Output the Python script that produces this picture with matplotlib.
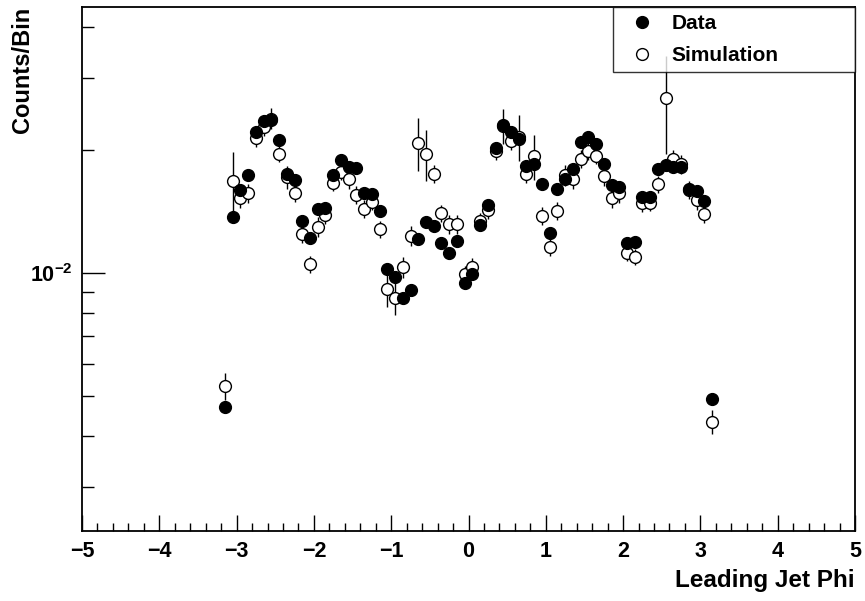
"""Leading jet phi distribution, data vs simulation (log y), ROOT-like style.
Output: out.png
"""
import matplotlib
matplotlib.use("Agg")
import matplotlib.pyplot as plt
import numpy as np
from matplotlib.lines import Line2D
from matplotlib.ticker import MultipleLocator, LogLocator, NullFormatter, LogFormatterMathtext

plt.rcParams["font.family"] = ["Liberation Sans", "DejaVu Sans"]
plt.rcParams["font.weight"] = "bold"
plt.rcParams["mathtext.fontset"] = "custom"
plt.rcParams["mathtext.rm"] = "Liberation Sans:bold"
plt.rcParams["mathtext.bf"] = "Liberation Sans:bold"
plt.rcParams["mathtext.default"] = "bf"

# 64 bins of 0.1 between -3.2 and 3.2
bin_edges = np.linspace(-3.2, 3.2, 65)
phi = 0.5 * (bin_edges[:-1] + bin_edges[1:])

data = [0.00469, 0.01373, 0.01596, 0.01736, 0.02208, 0.02357, 0.02360, 0.02114, 0.01746, 0.01688,
        0.01340, 0.01216, 0.01434, 0.01444, 0.01736, 0.01884, 0.01819, 0.01803, 0.01566, 0.01560,
        0.01420, 0.01021, 0.00979, 0.00867, 0.00909, 0.01209, 0.01335, 0.01303, 0.01182, 0.01117,
        0.01195, 0.00947, 0.00996, 0.01313, 0.01469, 0.02021, 0.02301, 0.02208, 0.02123, 0.01830,
        0.01844, 0.01648, 0.01250, 0.01605, 0.01701, 0.01793, 0.02094, 0.02147, 0.02064, 0.01845,
        0.01641, 0.01626, 0.01182, 0.01189, 0.01531, 0.01531, 0.01793, 0.01837, 0.01813, 0.01813,
        0.01602, 0.01587, 0.01502, 0.00491]
data_err = [0.00015, 0.0004, 0.00045, 0.0005, 0.0006, 0.00065, 0.00065, 0.0006, 0.0005, 0.0005,
            0.0004, 0.00035, 0.0004, 0.0004, 0.0005, 0.00055, 0.0005, 0.0005, 0.00045, 0.00045,
            0.0004, 0.0003, 0.0003, 0.00025, 0.0003, 0.00035, 0.0004, 0.0004, 0.00035, 0.00035,
            0.00035, 0.0003, 0.0003, 0.0004, 0.0004, 0.00055, 0.00065, 0.0006, 0.0006, 0.0005,
            0.0005, 0.00045, 0.00035, 0.00045, 0.0005, 0.0005, 0.0006, 0.0006, 0.0006, 0.0005,
            0.00045, 0.00045, 0.00035, 0.00035, 0.00045, 0.00045, 0.0005, 0.0005, 0.0005, 0.0005,
            0.00045, 0.00045, 0.00045, 0.00015]

sim = [0.00529, 0.01681, 0.01522, 0.01566, 0.02135, 0.02271, 0.02386, 0.01954, 0.01714, 0.01572,
       0.01243, 0.01052, 0.01298, 0.01386, 0.01663, 0.01769, 0.01695, 0.01551, 0.01434, 0.01494,
       0.01281, 0.00915, 0.00870, 0.01033, 0.01232, 0.02083, 0.01954, 0.01746, 0.01400, 0.01315,
       0.01315, 0.00993, 0.01036, 0.01340, 0.01426, 0.01988, 0.02292, 0.02102, 0.02154, 0.01746,
       0.01932, 0.01381, 0.01160, 0.01418, 0.01736, 0.01698, 0.01904, 0.01991, 0.01932, 0.01722,
       0.01522, 0.01566, 0.01121, 0.01096, 0.01480, 0.01485, 0.01650, 0.02674, 0.01900, 0.01847,
       0.01596, 0.01508, 0.01394, 0.00433]
sim_err = [0.0004, 0.0029, 0.0008, 0.0008, 0.0010, 0.0011, 0.0014, 0.0009, 0.0011, 0.0008,
           0.0006, 0.0005, 0.0007, 0.0007, 0.0008, 0.0008, 0.0009, 0.0008, 0.0007, 0.0007,
           0.0006, 0.0009, 0.0008, 0.0006, 0.0007, 0.0031, 0.0028, 0.0009, 0.0007, 0.0007,
           0.0007, 0.0005, 0.0005, 0.0006, 0.0007, 0.0010, 0.0022, 0.0010, 0.0028, 0.0009,
           0.0024, 0.0007, 0.0006, 0.0007, 0.0010, 0.0009, 0.0010, 0.0010, 0.0009, 0.0009,
           0.0008, 0.0008, 0.0005, 0.0005, 0.0007, 0.0007, 0.0008, 0.0072, 0.0010, 0.0010,
           0.0008, 0.0008, 0.0007, 0.0003]

fig = plt.figure(figsize=(8.65, 6.01), dpi=100)
ax = fig.add_axes([82 / 865, 1 - 531 / 601, 773 / 865, 524 / 601])

ax.errorbar(phi, sim, yerr=sim_err, fmt="o", ms=8.5, mfc="white", mec="black", mew=1.0,
            ecolor="black", elinewidth=1.0, capsize=0, zorder=3)
ax.errorbar(phi, data, yerr=data_err, fmt="o", ms=8.5, mfc="black", mec="black", mew=1.0,
            ecolor="black", elinewidth=1.0, capsize=0, zorder=4)

ax.set_yscale("log")
ax.set_xlim(-5, 5)
ax.set_ylim(2.34e-3, 4.47e-2)

ax.xaxis.set_major_locator(MultipleLocator(1))
ax.xaxis.set_minor_locator(MultipleLocator(0.2))
ax.yaxis.set_major_locator(LogLocator(base=10))
ax.yaxis.set_minor_locator(LogLocator(base=10, subs=np.arange(2, 10)))
ax.yaxis.set_major_formatter(LogFormatterMathtext())
ax.yaxis.set_minor_formatter(NullFormatter())

ax.tick_params(axis="x", which="major", direction="in", length=11.5, width=1, labelsize=15.5, pad=7)
ax.tick_params(axis="x", which="minor", direction="in", length=5.8, width=1)
ax.tick_params(axis="y", which="major", direction="in", length=16.6, width=1, labelsize=15.5, pad=7)
ax.tick_params(axis="y", which="minor", direction="in", length=8.6, width=1)
for s in ax.spines.values():
    s.set_linewidth(1.3)

ax.set_xlabel("Leading Jet Phi", fontsize=17.5, fontweight="bold", loc="right")
ax.xaxis.set_label_coords(1.0, -(569 - 531) / 524)
ax.set_ylabel("Counts/Bin", fontsize=17, fontweight="bold", loc="top")
ax.yaxis.set_label_coords((34 - 82) / 773, 1.0)

handles = [Line2D([], [], ls="none", marker="o", ms=8.5, mfc="black", mec="black"),
           Line2D([], [], ls="none", marker="o", ms=8.5, mfc="white", mec="black", mew=1.0)]
leg = ax.legend(handles, ["Data", "Simulation"], loc="upper left",
                bbox_to_anchor=(531 / 773, 1.0, 242 / 773, 0.0), mode="expand",
                prop={"size": 15, "weight": "bold"}, frameon=True, fancybox=False,
                borderaxespad=0, borderpad=0.35, labelspacing=0.6,
                handlelength=2.1, handletextpad=0.35, numpoints=1)
leg.get_frame().set_edgecolor("black")
leg.get_frame().set_linewidth(1.0)

fig.savefig("out.png", dpi=100)
